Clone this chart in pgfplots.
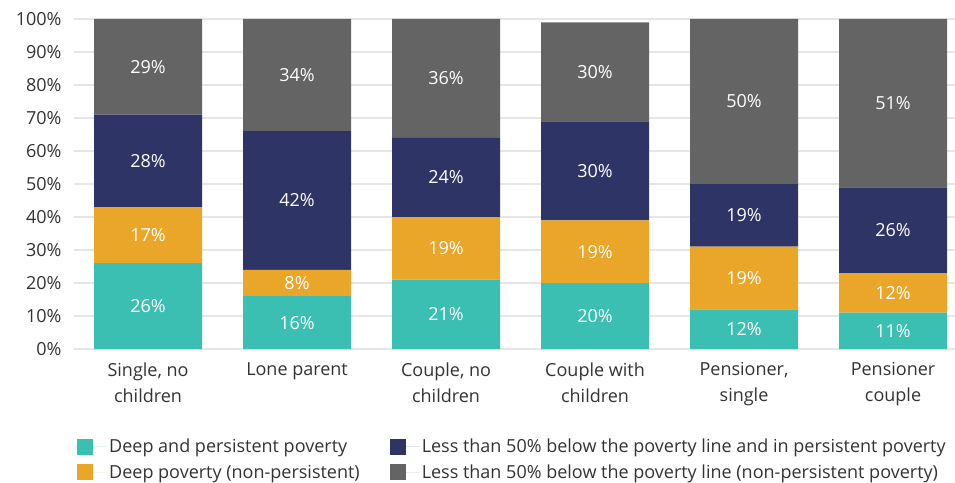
\documentclass[border=0pt]{standalone}
\usepackage{fontspec}
\setmainfont{Open Sans}
\usepackage{pgfplots}
\pgfplotsset{compat=1.18}
\definecolor{tealc}{HTML}{3BBFB3}
\definecolor{orangec}{HTML}{E9A628}
\definecolor{navyc}{HTML}{2F3467}
\definecolor{grayc}{HTML}{646465}
\definecolor{txt}{HTML}{333333}
\definecolor{gridc}{HTML}{E6E6E6}
\pgfplotsset{sqleg/.style={legend image code/.code={\fill (0pt,-8pt) rectangle (16pt,8pt); \path[draw=none] (16pt,0pt) -- (30pt,0pt);}}}
\newcommand{\cfont}{\fontsize{18}{26}\selectfont}
\begin{document}
\begin{tikzpicture}
\useasboundingbox (-74pt,-133pt) rectangle (881pt,349pt);
\begin{axis}[
  at={(0pt,0pt)}, anchor=south west,
  scale only axis, width=881pt, height=330pt,
  xmin=-0.497, xmax=5.416, ymin=0, ymax=100,
  ybar stacked, bar width=108pt,
  axis line style={draw=none},
  major tick length=0pt, tick style={draw=none},
  ymajorgrids, grid style={gridc, line width=1.3pt},
  ytick={0,10,...,100},
  yticklabel={\pgfmathprintnumber{\tick}\%},
  /pgf/number format/assume math mode=true,
  yticklabel style={text=txt, font=\cfont, xshift=-9pt},
  xtick={0,...,5},
  xticklabels={{Single, no\\children},{Lone parent},{Couple, no\\children},{Couple with\\children},{Pensioner,\\single},{Pensioner\\couple}},
  xticklabel style={align=center, text=txt, font=\cfont, yshift=-10pt},
  point meta=rawy,
  nodes near coords={\pgfmathprintnumber{\pgfplotspointmeta}\%},
  every node near coord/.append style={text=white, font=\cfont, anchor=center},
  legend columns=2,
  legend cell align=left,
  legend style={at={(0.0,-0.2606)}, anchor=north west, draw=none, fill=none,
    font=\fontsize{18}{22}\selectfont, text=txt, row sep=6.5pt,
    /tikz/every even column/.append style={column sep=28pt}},
]
\addplot[fill=tealc, draw=none, forget plot] coordinates {(0,26) (1,16) (2,21) (3,20) (4,12) (5,11)};
\addplot[fill=orangec, draw=none, forget plot] coordinates {(0,17) (1,8) (2,19) (3,19) (4,19) (5,12)};
\addplot[fill=navyc, draw=none, forget plot] coordinates {(0,28) (1,42) (2,24) (3,30) (4,19) (5,26)};
\addplot[fill=grayc, draw=none, forget plot] coordinates {(0,29) (1,34) (2,36) (3,30) (4,50) (5,51)};
\addlegendimage{sqleg, fill=tealc, draw=none}
\addlegendentry{Deep and persistent poverty}
\addlegendimage{sqleg, fill=navyc, draw=none}
\addlegendentry{Less than 50\% below the poverty line and in persistent poverty}
\addlegendimage{sqleg, fill=orangec, draw=none}
\addlegendentry{Deep poverty (non-persistent)}
\addlegendimage{sqleg, fill=grayc, draw=none}
\addlegendentry{Less than 50\% below the poverty line (non-persistent poverty)}
\end{axis}
\end{tikzpicture}
\end{document}
